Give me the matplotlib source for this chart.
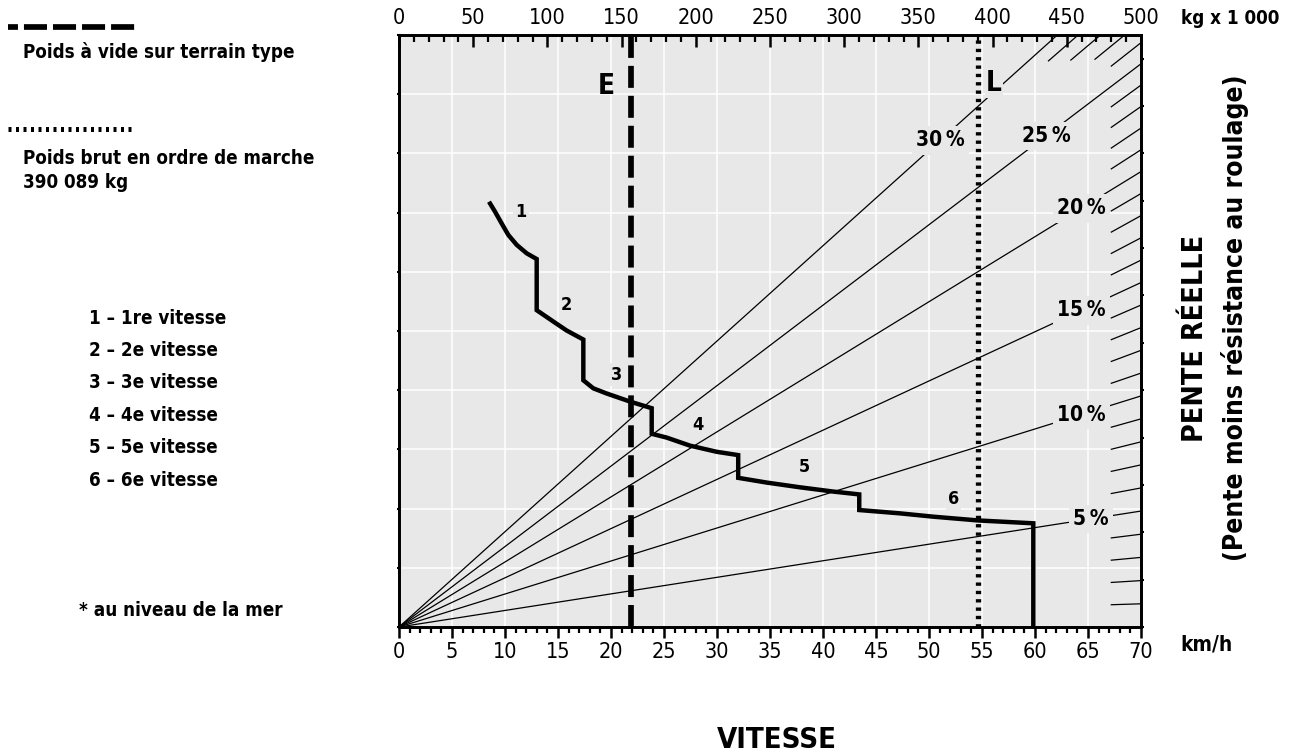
import numpy as np
import matplotlib
matplotlib.use('Agg')
import matplotlib.pyplot as plt
from matplotlib.lines import Line2D
from matplotlib.ticker import MultipleLocator, NullFormatter

plt.rcParams['font.family'] = ['DejaVu Sans']
plt.rcParams['font.stretch'] = 'condensed'

bg = '#e8e8e8'

# rimpull curve, one list per gear (km/h, kN)
gear1_speed = [8.49, 9.06, 9.69, 10.31, 11.10, 12.05, 12.99]
gear1_pull = [898, 877, 852, 828, 807, 789, 777]
gear2_speed = [12.99, 14.56, 15.82, 17.39]
gear2_pull = [669, 645, 626, 607]
gear3_speed = [17.39, 18.33, 19.6, 21.8, 23.84]
gear3_pull = [521, 504, 493, 476, 462]
gear4_speed = [23.84, 25.25, 27.45, 29.97, 32.0]
gear4_pull = [408, 400, 383, 370, 363]
gear5_speed = [32.0, 34.69, 37.83, 40.97, 43.42]
gear5_pull = [315, 305, 295, 286, 280]
gear6_speed = [43.42, 47.26, 50.4, 54.65, 59.84]
gear6_pull = [247, 240, 233, 225, 219]

gear_label_speed = [11.5, 15.8, 20.5, 28.2, 38.2, 52.3]
gear_label_pull = [876, 680, 533, 426, 338, 270]

gear_names = ['1 – 1re vitesse', '2 – 2e vitesse', '3 – 3e vitesse',
              '4 – 4e vitesse', '5 – 5e vitesse', '6 – 6e vitesse']

# grade lines (percent) and where their labels sit (kg x 1000)
grades = [5, 10, 15, 20, 25, 30]
grade_label_weight = [466, 459.6, 459.6, 459.6, 436, 364.6]

empty_weight = 156        # E, kg x 1000
gross_weight = 390.089    # L, kg x 1000


def pull_kn(weight_t, grade):
    # force needed on a grade: weight * g * sin(angle)
    return weight_t * 9.80665 * np.sin(np.arctan(grade / 100))


fig = plt.figure(figsize=(12.9, 7.53), dpi=100)
ax = fig.add_axes([0.3093, 0.1673, 0.5752, 0.7862])
ax.set_facecolor(bg)
ax.set_xlim(0, 70)
ax.set_ylim(0, 1250)
ax.xaxis.set_major_locator(MultipleLocator(5))
ax.xaxis.set_minor_locator(MultipleLocator(1))
ax.yaxis.set_major_locator(MultipleLocator(125))
ax.yaxis.set_major_formatter(NullFormatter())
ax.grid(True, color='white', lw=1.1)
ax.set_axisbelow(True)
ax.tick_params(axis='x', which='major', direction='out', length=8, width=1.8,
               labelsize=15.5, pad=3)
ax.tick_params(axis='x', which='minor', direction='out', length=4.3, width=1.6)
ax.tick_params(axis='y', which='major', direction='inout', length=3, width=1.5)
for s in ax.spines.values():
    s.set_linewidth(1.8)

# top weight scale
axt = ax.twiny()
axt.set_xlim(0, 500)
axt.xaxis.set_major_locator(MultipleLocator(50))
axt.xaxis.set_minor_locator(MultipleLocator(10))
axt.tick_params(axis='x', which='major', direction='in', length=8.6, width=1.8,
                labelsize=15.5, pad=5)
axt.tick_params(axis='x', which='minor', direction='in', length=5, width=1.6)
for s in axt.spines.values():
    s.set_linewidth(1.8)

# right ticks
axr = ax.twinx()
axr.set_ylim(0, 1250)
axr.yaxis.set_major_locator(MultipleLocator(100))
axr.yaxis.set_major_formatter(NullFormatter())
axr.tick_params(axis='y', direction='out', length=2.5, width=1.5)
for s in axr.spines.values():
    s.set_linewidth(1.8)

# rimpull curve
speeds = [gear1_speed, gear2_speed, gear3_speed, gear4_speed, gear5_speed, gear6_speed]
pulls = [gear1_pull, gear2_pull, gear3_pull, gear4_pull, gear5_pull, gear6_pull]
xs = sum(speeds, []) + [gear6_speed[-1]]
ys = sum(pulls, []) + [0]
ax.plot(xs, ys, color='black', lw=3.2, solid_joinstyle='miter',
        solid_capstyle='butt', zorder=3)
for i in range(6):
    ax.text(gear_label_speed[i], gear_label_pull[i], str(i + 1), ha='center', va='center',
            fontsize=13, fontweight='bold', zorder=4,
            bbox=dict(facecolor=bg, edgecolor='none', pad=1.5))

# grade lines and 1 % marks
for g, w in zip(grades, grade_label_weight):
    axt.plot([0, 500], [0, pull_kn(500, g)], color='black', lw=0.9, zorder=2)
    axt.text(w, pull_kn(w, g), f'{g}\u2009%', ha='center', va='center', fontsize=15,
             fontweight='bold', zorder=3,
             bbox=dict(facecolor=bg, edgecolor='none', pad=3))
for g in range(1, 30):
    if g % 5 == 0:
        continue
    w_end = min(500, 1250 / (9.80665 * np.sin(np.arctan(g / 100))))
    axt.plot([w_end - 20, w_end], [pull_kn(w_end - 20, g), pull_kn(w_end, g)],
             color='black', lw=0.9, zorder=2)

# empty and gross weight
axt.axvline(empty_weight, color='black', lw=4.1, ls=(0, (3.86, 1.4)),
            dash_capstyle='butt', zorder=5)
axt.axvline(gross_weight, color='black', lw=3.8, ls=(0, (0.63, 0.95)),
            dash_capstyle='butt', zorder=5)
axt.text(139.5, 1143, 'E', ha='center', va='center', fontsize=20, fontweight='bold')
axt.text(401, 1148, 'L', ha='center', va='center', fontsize=20, fontweight='bold',
         bbox=dict(facecolor=bg, edgecolor='none', pad=0.5))

# left legend
fig.add_artist(Line2D([8 / 1290, 135 / 1290], [1 - 27 / 753] * 2, transform=fig.transFigure,
                      color='black', lw=4.1, ls=(2.3, (4.05, 1.05)), dash_capstyle='butt'))
fig.add_artist(Line2D([8 / 1290, 135 / 1290], [1 - 129 / 753] * 2, transform=fig.transFigure,
                      color='black', lw=3.6, ls=(0, (0.6, 0.9)), dash_capstyle='butt'))
fs = 13.5
fig.text(23 / 1290, 1 - 52 / 753, 'Poids à vide sur terrain type', ha='left', va='center',
         fontsize=fs, fontweight='bold')
fig.text(23 / 1290, 1 - 158 / 753, 'Poids brut en ordre de marche', ha='left', va='center',
         fontsize=fs, fontweight='bold')
fig.text(23 / 1290, 1 - 183 / 753, '390 089 kg', ha='left', va='center',
         fontsize=fs, fontweight='bold')
for i, name in enumerate(gear_names):
    fig.text(89 / 1290, 1 - (318 + 32.4 * i) / 753, name, ha='left', va='center',
             fontsize=fs, fontweight='bold')
fig.text(79 / 1290, 1 - 610 / 753, '* au niveau de la mer', ha='left', va='center',
         fontsize=fs, fontweight='bold')

# axis titles
fig.text(1181 / 1290, 1 - 18 / 753, 'kg x 1 000', ha='left', va='center',
         fontsize=13.5, fontweight='bold')
fig.text(1180 / 1290, 1 - 645 / 753, 'km/h', ha='left', va='center',
         fontsize=15, fontweight='bold')
fig.text(777 / 1290, 1 - 740 / 753, 'VITESSE', ha='center', va='center',
         fontsize=21, fontweight='bold')
fig.text(1195 / 1290, 1 - 338 / 753, 'PENTE RÉELLE', ha='center', va='center',
         rotation=90, fontsize=20.5, fontweight='bold')
fig.text(1235 / 1290, 1 - 318 / 753, '(Pente moins résistance au roulage)', ha='center',
         va='center', rotation=90, fontsize=19, fontweight='bold')

fig.savefig('out.png', dpi=100)
